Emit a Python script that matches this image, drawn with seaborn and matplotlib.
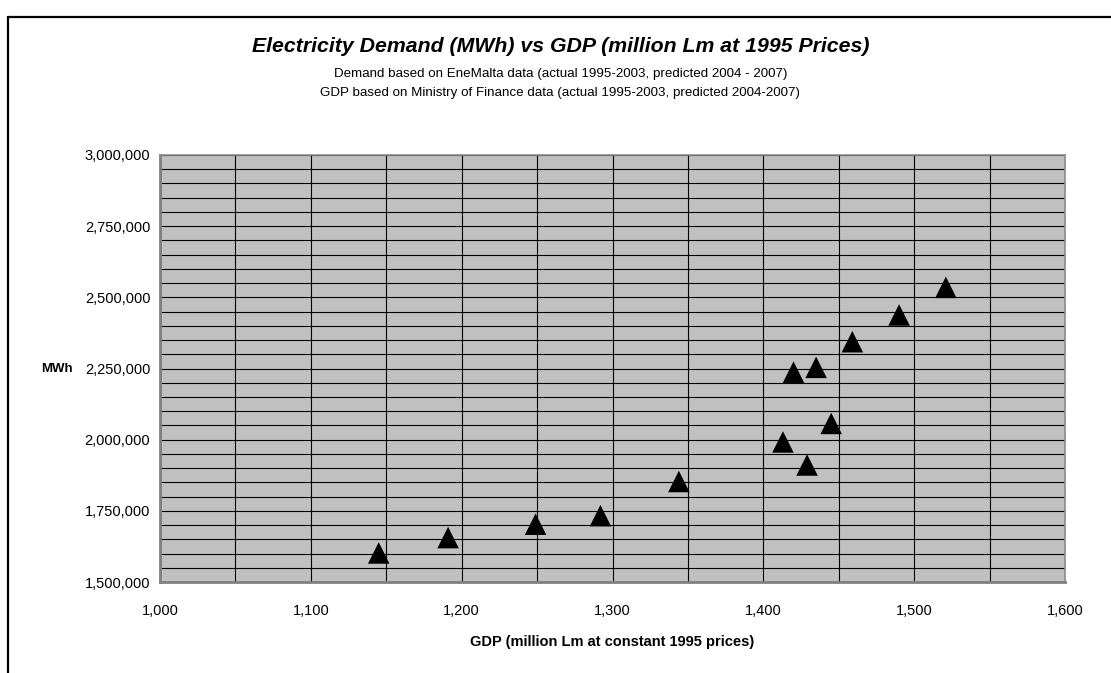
import matplotlib
matplotlib.use("Agg")
import matplotlib.pyplot as plt
from matplotlib.ticker import MultipleLocator, FuncFormatter
from matplotlib.lines import Line2D
import seaborn as sns
import pandas as pd

# GDP (million Lm, constant 1995 prices) and electricity demand (MWh)
gdp = [1145, 1191, 1249, 1292, 1344, 1413, 1429, 1420, 1435, 1445, 1459, 1490, 1521]
demand = [1602000, 1656000, 1703000, 1733000, 1853000, 1992000, 1911000,
          2237000, 2254000, 2057000, 2344000, 2438000, 2535000]

title = "Electricity Demand (MWh) vs GDP (million Lm at 1995 Prices)"
subtitle_1 = "Demand based on EneMalta data (actual 1995-2003, predicted 2004 - 2007)"
subtitle_2 = "GDP based on Ministry of Finance data (actual 1995-2003, predicted 2004-2007)"
x_label = "GDP (million Lm at constant 1995 prices)"
y_label = "MWh"

df = pd.DataFrame({"gdp": gdp, "demand": demand})

sns.set_style("white")
plt.rcParams["font.family"] = ["Liberation Sans", "DejaVu Sans"]
plt.rcParams["text.color"] = "black"
plt.rcParams["axes.labelcolor"] = "black"

W, H = 1111, 673
fig = plt.figure(figsize=(W / 100, H / 100), dpi=100)
fig.patch.set_facecolor("white")

# plot area position in pixels
left, right, top, bottom = 160, 1065, 155, 582
ax = fig.add_axes([left / W, 1 - bottom / H, (right - left) / W, (bottom - top) / H])
ax.set_facecolor("#c0c0c0")

ax.set_xlim(1000, 1600)
ax.set_ylim(1500000, 3000000)
ax.xaxis.set_major_locator(MultipleLocator(100))
ax.xaxis.set_minor_locator(MultipleLocator(50))
ax.yaxis.set_major_locator(MultipleLocator(250000))
ax.yaxis.set_minor_locator(MultipleLocator(50000))
comma = FuncFormatter(lambda v, p: f"{v:,.0f}")
ax.xaxis.set_major_formatter(comma)
ax.yaxis.set_major_formatter(comma)

ax.grid(True, which="both", color="black", linewidth=0.8)
ax.set_axisbelow(True)

sns.scatterplot(data=df, x="gdp", y="demand", marker="^", s=240,
                color="black", edgecolor="none", linewidth=0, ax=ax, zorder=3)

for side in ["left", "bottom"]:
    ax.spines[side].set_color("#808080")
    ax.spines[side].set_linewidth(2.0)
for side in ["top", "right"]:
    ax.spines[side].set_color("#8c8c8c")
    ax.spines[side].set_linewidth(1.2)

ax.tick_params(axis="both", which="major", direction="out", length=4, width=1,
               color="black", labelsize=10.5, labelcolor="black", pad=3)
ax.tick_params(axis="x", which="major", pad=12)
ax.tick_params(axis="both", which="minor", length=0)

ax.set_xlabel(x_label, fontsize=10.5, fontweight="bold", labelpad=12)
ax.set_ylabel(y_label, fontsize=9.5, fontweight="bold", rotation=0, ha="center", va="center")
ax.yaxis.set_label_coords(-0.114, 0.5)

fig.text(0.5045, 1 - 47 / H, title, ha="center", va="center", fontsize=15.3,
         fontweight="bold", fontstyle="italic")
fig.text(0.5045, 1 - 74 / H, subtitle_1, ha="center", va="center", fontsize=9.6)
fig.text(0.5045, 1 - 93 / H, subtitle_2, ha="center", va="center", fontsize=9.6)

# outer chart frame (open at the right and bottom edges)
fig.add_artist(Line2D([8 / W, 1.0], [1 - 17 / H, 1 - 17 / H], color="black",
                      linewidth=1.6, transform=fig.transFigure))
fig.add_artist(Line2D([8 / W, 8 / W], [1 - 17 / H, 0.0], color="black",
                      linewidth=1.6, transform=fig.transFigure))

fig.savefig("out.png", dpi=100, facecolor="white")
